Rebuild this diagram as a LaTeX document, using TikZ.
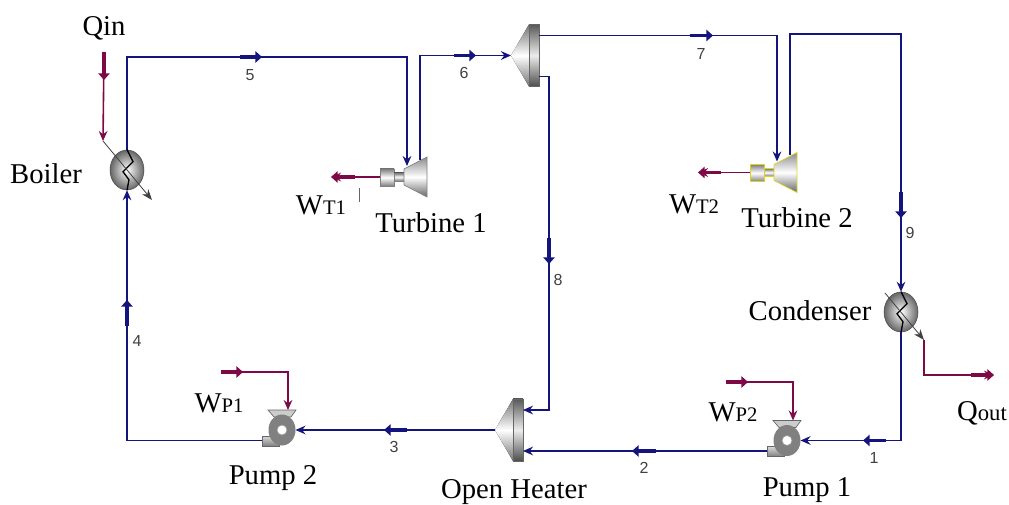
\documentclass[tikz,border=0pt]{standalone}
\usepackage{fontspec}
\setmainfont{Liberation Serif}
\newfontfamily\numfont{Liberation Sans}
\usetikzlibrary{
arrows.meta,
positioning,
shapes.geometric
}
\definecolor{steam}{RGB}{20,20,125}
\definecolor{work}{RGB}{125,10,70}
\newcommand{\lowtxt}[1]{{\fontsize{15.5}{18}\selectfont #1}}

\begin{document}
\begin{tikzpicture}[
x=0.75pt,y=-0.75pt,
lab/.style={font=\fontsize{21.5}{24}\selectfont,inner sep=0pt},
num/.style={font=\numfont\fontsize{12}{14}\selectfont,text=black!75,inner sep=0pt},
pipe/.style={draw=steam,line width=1.2pt,-{Stealth[length=7.5pt,width=6.5pt,inset=2.5pt]}},
power/.style={draw=work,line width=1.2pt,-{Stealth[length=7.5pt,width=6.5pt,inset=2.5pt]}},
pipemark/.style={draw=steam,line width=2.8pt,-{Triangle[length=5pt,width=8.5pt]}},
powermark/.style={draw=work,line width=2.8pt,-{Triangle[length=5pt,width=8.5pt]}},
heat/.style={draw=black!75,line width=0.6pt,-{Stealth[length=8pt,width=6pt,inset=2.5pt]}},
exch/.style={draw=black!70,ellipse,inner sep=0pt,minimum width=25.5pt,minimum height=30pt,
inner color=white,outer color=black!60},
zig/.style={draw=black,line width=1pt},
turbine/.pic={
\draw[draw=#1,line width=0.5pt,top color=black!50,bottom color=black!50,middle color=white]
(0,-8) rectangle (14,9);
\draw[draw=#1,line width=0.5pt,top color=black!55,bottom color=black!55,middle color=white]
(14,-4) rectangle (24,4);
\draw[draw=#1,line width=0.5pt,top color=black!45,bottom color=black!60,middle color=white]
(24,-8) -- (47,-20) -- (47,20) -- (24,8) -- cycle;
\coordinate (-shaft) at (0,0);
\coordinate (-in) at (27,-11);
\coordinate (-out) at (40,-17);
},
splitter/.pic={
\fill[top color=black!55,bottom color=black!55,middle color=white] (0,0) -- (18,-31) -- (18,31) -- cycle;
\draw[draw=black!60,line width=0.5pt,top color=black!65,bottom color=black!70,middle color=white!85!gray]
(18,-31) rectangle (28,31);
\coordinate (-tip) at (0,0);
\coordinate (-up) at (28,-20);
\coordinate (-low) at (28,21);
},
pumpbody/.pic={
\draw[draw=black!60,line width=0.5pt,top color=black!15,bottom color=black!50] (-20,6) rectangle (-3,16);
\draw[draw=black!60,line width=0.5pt,fill=black!20] (-14,-20) -- (14,-20) -- (9,-13) -- (-8,-13) -- cycle;
\fill[black!50] (0,0) ellipse (13.5 and 15.5);
\draw[draw=black!40,line width=0.5pt,fill=white] (0,0) circle (5);
\coordinate (-in) at (13.5,0);
\coordinate (-top) at (6,-20);
\coordinate (-out) at (-20,10.5);
}
]
\useasboundingbox (0,0) rectangle (1009,505);

% equipment
\node[exch] (boiler) at (127,170) {};
\node[exch] (condenser) at (901,312) {};
\pic (tb1) at (380,177) {turbine=black!50};
\pic (tb2) at (750,172.5) {turbine=yellow!85!black};
\pic (split) at (511,55.5) {splitter};
\pic (heater) at (495,430) {splitter};
\pic (pump1) at (787,440.5) {pumpbody};
\pic (pump2) at (282,430) {pumpbody};

\coordinate (qinstart) at (104,52);
\coordinate (qinend) at (103,141);
\coordinate (boilerheat) at (152,200);
\coordinate (condheat0) at (885,293);
\coordinate (condheat) at (924,340);
\coordinate (qoutend) at (994,375);
\coordinate (wt1end) at (331,177);
\coordinate (wt2end) at (698,172.5);
\coordinate (wp1start) at (221,372);
\coordinate (wp2start) at (726,382);

% steam lines
\draw[pipe] (boiler.north) -- (127,57) -- (407,57) -- (tb1-in);
\draw[pipe] (tb1-out) |- (split-tip);
\draw[pipe] (split-up) -| (tb2-in);
\draw[pipe] (tb2-out) |- (901,34) -- (condenser.north);
\draw[pipe] (split-low) -| (549,300) |- (heater-up);
\draw[pipe] (condenser.south) |- (pump1-in);
\draw[pipe] (pump1-out) -- (heater-low);
\draw[pipe] (heater-tip) -- (pump2-in);
\draw[pipe] (pump2-out) -| (boiler.south);

% work and heat lines
\draw[power] (qinstart) -- (qinend);
\draw[power] (tb1-shaft) -- (wt1end);
\draw[power] (tb2-shaft) -- (wt2end);
\draw[power] (wp1start) -| (pump2-top);
\draw[power] (wp2start) -| (pump1-top);
\draw[power] (condheat) |- (qoutend);
\draw[zig] (boiler.north) -- ++(6,12) -- ++(-10,10) -- ++(6,8) -- (boiler.south);
\draw[zig] (condenser.north) -- ++(6,12) -- ++(-10,10) -- ++(6,8) -- (condenser.south);
\draw[heat] (qinend) -- (boilerheat);
\draw[heat] (condheat0) -- (condheat);
\draw[black!60,line width=0.4pt] (359,188) -- (359,202);

% flow marks
\draw[pipemark] (240,57) -- ++(22,0);
\draw[pipemark] (454,55.5) -- ++(22,0);
\draw[pipemark] (690,35.5) -- ++(23,0);
\draw[pipemark] (901,192) -- ++(0,26);
\draw[pipemark] (549,238) -- ++(0,26);
\draw[pipemark] (407,430) -- ++(-23,0);
\draw[pipemark] (656,451) -- ++(-24,0);
\draw[pipemark] (886,440.5) -- ++(-23,0);
\draw[pipemark] (127,326) -- ++(0,-26);
\draw[powermark] (104,52) -- ++(0,28);
\draw[powermark] (355,177) -- ++(-24,0);
\draw[powermark] (721,172.5) -- ++(-23,0);
\draw[powermark] (221,372) -- ++(22,0);
\draw[powermark] (726,382) -- ++(22,0);
\draw[powermark] (971,375) -- ++(23,0);

% labels
\node[num] (n1) at (874,458) {1};
\node[num] (n2) at (644,468) {2};
\node[num] (n3) at (394,447) {3};
\node[num] (n4) at (137,341) {4};
\node[num] (n5) at (250,75) {5};
\node[num] (n6) at (464,73) {6};
\node[num] (n7) at (701,54) {7};
\node[num] (n8) at (558,280) {8};
\node[num] (n9) at (910,233) {9};

\node[lab] (qin) at (104,28) {Qin};
\node[lab] (boilerlab) at (46,174) {Boiler};
\node[lab] (wt1) at (321,205) {W\lowtxt{T1}};
\node[lab] (wt2) at (694,204) {W\lowtxt{T2}};
\node[lab] (tb1lab) at (431,223) {Turbine 1};
\node[lab] (tb2lab) at (797,218) {Turbine 2};
\node[lab] (condlab) at (810,311) {Condenser};
\node[lab] (qout) at (982,413) {Q\lowtxt{\fontsize{17}{18}\selectfont out}};
\node[lab] (wp1) at (219,403) {W\lowtxt{P1}};
\node[lab] (wp2) at (733,412) {W\lowtxt{P2}};
\node[lab] (pump2lab) at (273,478) {Pump 2};
\node[lab] (pump1lab) at (807,490) {Pump 1};
\node[lab] (heaterlab) at (514,492) {Open Heater};

\end{tikzpicture}
\end{document}
